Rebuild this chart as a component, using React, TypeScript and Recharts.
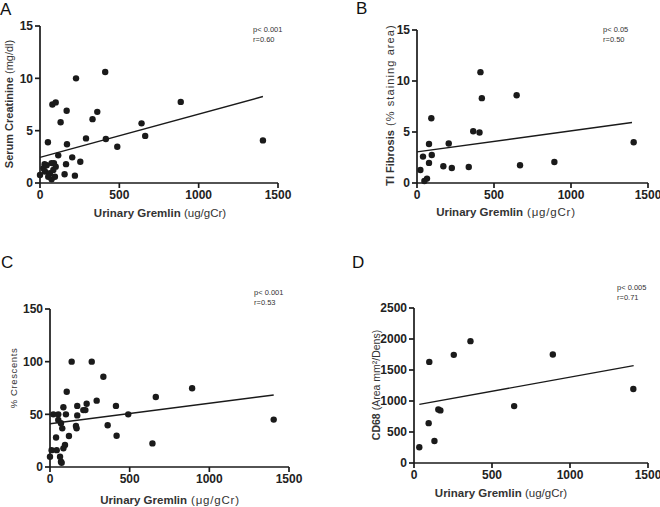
import React from 'react';
import { ScatterChart, Scatter, XAxis, YAxis, ReferenceLine } from 'recharts';

// ---------- Data ----------
const xTicks = [0, 500, 1000, 1500];

// Panel A: Urinary Gremlin vs Serum Creatinine
const gremlinA = [411, 227, 78, 99, 887, 168, 361, 331, 130, 640, 663, 290, 415, 1405, 50, 170, 487, 115, 203, 254, 164, 88, 29, 155, 220, 0, 21, 42, 73, 31, 63, 52, 73, 94, 84, 99];
const creatinineA = [10.6, 10.0, 7.5, 7.7, 7.75, 6.9, 6.8, 6.1, 5.8, 5.7, 4.5, 4.26, 4.2, 4.07, 3.9, 3.7, 3.46, 2.64, 2.45, 2.03, 1.8, 1.9, 1.8, 0.83, 0.7, 0.76, 1.4, 1.7, 1.9, 1.1, 0.93, 0.6, 0.35, 0.6, 1.25, 1.56];
const fitAX = [0, 1405];
const fitAY = [2.45, 8.26];
const yTicksA = [0, 5, 10, 15];

// Panel B: Urinary Gremlin vs TI Fibrosis
const gremlinB = [412, 421, 647, 93, 365, 406, 78, 206, 1407, 96, 39, 78, 171, 226, 336, 669, 892, 22, 65, 48];
const fibrosisB = [10.87, 8.32, 8.6, 6.35, 5.08, 4.95, 3.83, 3.87, 4.0, 2.75, 2.59, 1.97, 1.64, 1.47, 1.57, 1.74, 2.06, 1.28, 0.43, 0.2];
const fitBX = [0, 1396];
const fitBY = [3.05, 5.93];
const yTicksB = [0, 5, 10, 15];

// Panel C: Urinary Gremlin vs % Crescents
const gremlinC = [136, 262, 335, 892, 105, 664, 293, 230, 209, 171, 171, 84, 414, 21, 52, 100, 491, 1404, 52, 69, 77, 163, 167, 362, 119, 418, 643, 38, 94, 84, 10, 42, 0, 63, 69, 73, 222];
const crescentsC = [100, 100, 85.7, 74.7, 71.5, 66.5, 63, 60, 54, 58, 49, 56.7, 58, 50, 50, 50, 50, 45, 44.6, 41.5, 36.7, 39, 36.7, 39.6, 29.4, 29.7, 22.4, 28, 21, 17.7, 16, 16, 9.8, 9.8, 5, 4, 54];
const fitCX = [0, 1404];
const fitCY = [41, 68.4];
const yTicksC = [0, 50, 100, 150];

// Panel D: Urinary Gremlin vs CD68
const gremlinD = [34, 98, 94, 131, 156, 169, 255, 362, 642, 890, 1406];
const cd68D = [254, 1631, 643, 356, 864, 848, 1744, 1965, 918, 1750, 1193];
const fitDX = [34, 1408];
const fitDY = [945, 1571];
const yTicksD = [0, 500, 1000, 1500, 2000, 2500];

// ---------- Styling ----------
const FONT = '"Liberation Sans", Arial, sans-serif';
const INK = '#1a1a1a';
const TXT = '#333';

const zip = (xs: number[], ys: number[]) => xs.map((x, i) => ({ x, y: ys[i] }));

type PanelProps = {
  left: number;
  top: number;
  width: number;
  height: number;
  margin: { top: number; right: number; bottom: number; left: number };
  yWidth: number;
  xs: number[];
  ys: number[];
  fitX: number[];
  fitY: number[];
  yTicks: number[];
  letter: string;
  letterPos: [number, number];
  pText: string;
  rText: string;
  annPos: [number, number];
  xUnit: string;
  xUnitSpacing?: number;
  xLabelPos: [number, number];
  yBold: string;
  yNormal: string;
  yNormalSpacing?: number;
  yLabelPos: [number, number];
  yFontSize?: number;
  yBoldWeight?: string;
};

function Panel(p: PanelProps) {
  const data = zip(p.xs, p.ys);
  const yMax = p.yTicks[p.yTicks.length - 1];
  const tickStyle = { fill: '#222', fontSize: 12, fontWeight: 'bold' as const, fontFamily: FONT };
  const lineStyle = { stroke: INK, strokeWidth: 1.7 };
  const yfs = p.yFontSize ?? 11;
  return (
    <div style={{ position: 'absolute', left: p.left, top: p.top, width: p.width, height: p.height }}>
      <ScatterChart width={p.width} height={p.height} margin={p.margin}>
        <XAxis
          type="number"
          dataKey="x"
          domain={[0, 1500]}
          ticks={xTicks}
          interval={0}
          tick={tickStyle}
          axisLine={lineStyle}
          tickLine={lineStyle}
          tickSize={5}
          height={30}
          label={{
            content: () => (
              <text x={p.xLabelPos[0]} y={p.xLabelPos[1]} textAnchor="middle" fontFamily={FONT} fontSize={11.5} fill={TXT} dominantBaseline="central">
                <tspan fontWeight="bold">Urinary Gremlin</tspan>
                <tspan fontWeight="normal" letterSpacing={p.xUnitSpacing ?? 0}>{' ' + p.xUnit}</tspan>
              </text>
            ),
          }}
        />
        <YAxis
          type="number"
          dataKey="y"
          domain={[0, yMax]}
          ticks={p.yTicks}
          interval={0}
          width={p.yWidth}
          tick={tickStyle}
          axisLine={lineStyle}
          tickLine={lineStyle}
          tickSize={5}
          label={{
            content: () => (
              <text
                transform={`translate(${p.yLabelPos[0]},${p.yLabelPos[1]}) rotate(-90)`}
                textAnchor="middle"
                fontFamily={FONT}
                fontSize={yfs}
                fill={TXT}
                dominantBaseline="central"
              >
                <tspan fontWeight={p.yBoldWeight ?? 'bold'}>{p.yBold}</tspan>
                <tspan fontWeight="normal" letterSpacing={p.yNormalSpacing ?? 0}>{p.yNormal}</tspan>
              </text>
            ),
          }}
        />
        <ReferenceLine
          segment={[
            { x: p.fitX[0], y: p.fitY[0] },
            { x: p.fitX[1], y: p.fitY[1] },
          ]}
          stroke={INK}
          strokeWidth={1.4}
          ifOverflow="visible"
        />
        <Scatter data={data} fill={INK} isAnimationActive={false} shape={(s: any) => <circle cx={s.cx} cy={s.cy} r={3.2} fill={INK} />} />
      </ScatterChart>
      <svg width={p.width} height={p.height} style={{ position: 'absolute', left: 0, top: 0, pointerEvents: 'none' }}>
        <text x={p.letterPos[0]} y={p.letterPos[1]} fontFamily={FONT} fontSize={17} fill="#111">{p.letter}</text>
        <text x={p.annPos[0]} y={p.annPos[1]} fontFamily={FONT} fontSize={7.5} fill={TXT}>{p.pText}</text>
        <text x={p.annPos[0]} y={p.annPos[1] + 9.5} fontFamily={FONT} fontSize={7.5} fill={TXT}>{p.rText}</text>
      </svg>
    </div>
  );
}

export default function App() {
  return (
    <div style={{ position: 'absolute', left: 0, top: 0, width: 660, height: 507, background: '#fff', overflow: 'hidden' }}>
      <Panel
        left={0} top={0} width={330} height={253}
        margin={{ top: 26, right: 52, bottom: 40, left: 10 }} yWidth={30}
        xs={gremlinA} ys={creatinineA} fitX={fitAX} fitY={fitAY} yTicks={yTicksA}
        letter="A" letterPos={[0, 15]}
        pText="p< 0.001" rText="r=0.60" annPos={[253, 32]}
        xUnit="(ug/gCr)" xLabelPos={[160, 213]}
        yBold="Serum Creatinine" yNormal=" (mg/dl)" yLabelPos={[9, 104]}
      />
      <Panel
        left={330} top={0} width={330} height={253}
        margin={{ top: 30, right: 12, bottom: 40, left: 57 }} yWidth={30}
        xs={gremlinB} ys={fibrosisB} fitX={fitBX} fitY={fitBY} yTicks={yTicksB}
        letter="B" letterPos={[26, 14]}
        pText="p< 0.05" rText="r=0.50" annPos={[273, 32]}
        xUnit="(μg/gCr)" xUnitSpacing={0.8} xLabelPos={[176, 212]}
        yBold="TI Fibrosis" yNormal=" (% staining area)" yNormalSpacing={1.1} yLabelPos={[60, 105]}
      />
      <Panel
        left={0} top={253} width={330} height={254}
        margin={{ top: 56, right: 41, bottom: 10, left: 20 }} yWidth={30}
        xs={gremlinC} ys={crescentsC} fitX={fitCX} fitY={fitCY} yTicks={yTicksC}
        letter="C" letterPos={[1, 15]}
        pText="p< 0.001" rText="r=0.53" annPos={[254, 42]}
        xUnit="(μg/gCr)" xUnitSpacing={0.8} xLabelPos={[170, 247]}
        yBold="" yNormal="% Crescents" yNormalSpacing={0.6} yFontSize={9.5} yLabelPos={[13, 125]}
      />
      <Panel
        left={330} top={253} width={330} height={254}
        margin={{ top: 55, right: 12, bottom: 14, left: 44 }} yWidth={40}
        xs={gremlinD} ys={cd68D} fitX={fitDX} fitY={fitDY} yTicks={yTicksD}
        letter="D" letterPos={[22, 15]}
        pText="p< 0.005" rText="r=0.71" annPos={[287, 37]}
        xUnit="(ug/gCr)" xLabelPos={[171, 240]}
        yBold="CD68" yNormal=" (Area mm²/Dens)" yFontSize={10.5} yLabelPos={[46, 132]}
      />
    </div>
  );
}
